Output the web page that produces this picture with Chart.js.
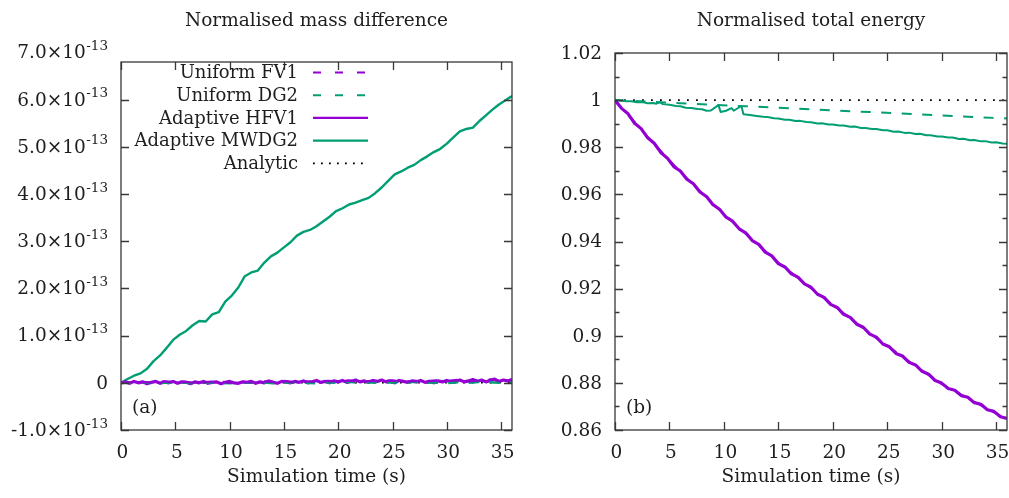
<!DOCTYPE html>
<html><head><meta charset="utf-8">
<script src="https://cdn.jsdelivr.net/npm/chart.js@4.4.1/dist/chart.umd.min.js"></script>
<style>
html,body{margin:0;padding:0;background:#fff;width:1009px;height:498px;overflow:hidden}
canvas{position:absolute;top:0}
#c1{left:0}
#c2{left:540px}
</style></head><body>
<canvas id="c1" width="540" height="498"></canvas>
<canvas id="c2" width="469" height="498"></canvas>
<script>
// ---------- text ----------
const seriesNames = ['Uniform FV1', 'Uniform DG2', 'Adaptive HFV1', 'Adaptive MWDG2', 'Analytic'];
const panelTitles = ['Normalised mass difference', 'Normalised total energy'];
const xAxisTitle = 'Simulation time (s)';
const panelTags = ['(a)', '(b)'];

// ---------- ticks ----------
const xTicks = [0, 5, 10, 15, 20, 25, 30, 35];
const massTicks = [-1, 0, 1, 2, 3, 4, 5, 6, 7];        // units of 1e-13
const massExponent = '-13';
const energyTicks = [0.86, 0.88, 0.9, 0.92, 0.94, 0.96, 0.98, 1, 1.02];
const energyMinorTicks = [0.87, 0.89, 0.91, 0.93, 0.95, 0.97, 0.99, 1.01];

// ---------- time samples ----------
const t04 = [0,0.4,0.8,1.2,1.6,2,2.4,2.8,3.2,3.6,4,4.4,4.8,5.2,5.6,6,6.4,6.8,7.2,7.6,8,8.4,8.8,9.2,9.6,10,10.4,10.8,11.2,11.6,12,12.4,12.8,13.2,13.6,14,14.4,14.8,15.2,15.6,16,16.4,16.8,17.2,17.6,18,18.4,18.8,19.2,19.6,20,20.4,20.8,21.2,21.6,22,22.4,22.8,23.2,23.6,24,24.4,24.8,25.2,25.6,26,26.4,26.8,27.2,27.6,28,28.4,28.8,29.2,29.6,30,30.4,30.8,31.2,31.6,32,32.4,32.8,33.2,33.6,34,34.4,34.8,35.2,35.6,36];
const t06 = [0,0.6,1.2,1.8,2.4,3,3.6,4.2,4.8,5.4,6,6.6,7.2,7.8,8.4,9,9.6,10.2,10.8,11.4,12,12.6,13.2,13.8,14.4,15,15.6,16.2,16.8,17.4,18,18.6,19.2,19.8,20.4,21,21.6,22.2,22.8,23.4,24,24.6,25.2,25.8,26.4,27,27.6,28.2,28.8,29.4,30,30.6,31.2,31.8,32.4,33,33.6,34.2,34.8,35.4,36];
const t1 = [0,1,2,3,4,5,6,7,8,9,10,11,12,13,14,15,16,17,18,19,20,21,22,23,24,25,26,27,28,29,30,31,32,33,34,35,36];
const t3 = [0,3,6,9,12,15,18,21,24,27,30,33,36];
const t6 = [0,6,12,18,24,30,36];
const tEnds = [0,36];

// ---------- panel (a): normalised mass difference, units of 1e-13 ----------
const massFV1 = [0,0.01,0.02,0.0,0.03,0.01,0.02,-0.01,0.02,0.03,0.0,0.02,0.01,0.03,0.02,0.04,0.01,0.03,0.02,0.04,0.03,0.05,0.02,0.04,0.03,0.05,0.02,0.04,0.03,0.05,0.04,0.06,0.03,0.05,0.07,0.04,0.06];
const massDG2 = [0,0.0,0.01,-0.01,0.0,0.01,0.0,-0.02,0.01,0.0,-0.01,0.01,0.0,0.01,-0.01,0.0,0.01,0.0,-0.01,0.01,0.0,0.02,0.0,0.01,-0.01,0.01,0.0,0.02,0.0,0.01,-0.01,0.01,0.0,0.02,0.01,0.0,0.01];
const massHFV1 = [
  0.00,0.02,-0.01,0.03,0.00,0.02,-0.02,0.01,0.03,-0.01,
  0.02,0.00,0.03,-0.01,0.02,0.01,-0.02,0.02,0.00,0.03,
  -0.01,0.01,0.02,-0.02,0.01,0.03,0.00,-0.01,0.02,0.01,
  0.03,-0.01,0.02,0.00,0.04,0.01,-0.01,0.03,0.02,0.00,
  0.03,0.01,0.04,0.00,0.02,0.05,0.01,0.03,0.00,0.04,
  0.02,0.05,0.01,0.03,0.06,0.02,0.04,0.01,0.05,0.03,
  0.06,0.02,0.04,0.00,0.05,0.03,0.01,0.04,0.02,0.05,
  0.01,0.03,0.00,0.04,0.02,0.05,0.01,0.03,0.06,0.02,
  0.04,0.07,0.03,0.06,0.02,0.05,0.08,0.03,0.06,0.04,
  0.07];
const massMWDG2 = [0.00,0.08,0.15,0.20,0.30,0.46,0.58,0.74,0.91,1.02,1.10,1.22,1.31,1.30,1.45,1.50,1.72,1.85,2.02,2.26,2.34,2.38,2.55,2.68,2.76,2.87,2.98,3.12,3.20,3.24,3.32,3.42,3.52,3.64,3.70,3.78,3.82,3.87,3.92,4.02,4.14,4.28,4.42,4.48,4.56,4.62,4.72,4.80,4.89,4.96,5.07,5.20,5.33,5.38,5.41,5.55,5.67,5.79,5.90,5.99,6.08];
const massAnalytic = [0, 0];

// ---------- panel (b): normalised total energy ----------
const energyFV1 = [1,0.9844,0.9695,0.956,0.9433,0.931,0.9202,0.9095,0.899,0.8891,0.8795,0.872,0.8645];
const energyDG2 = [1,0.9987,0.9974,0.9961,0.9948,0.9935,0.9922];
const energyHFV1 = [1.0000,0.9965,0.9942,0.9902,0.9879,0.9840,0.9817,0.9778,0.9754,0.9718,0.9699,0.9664,0.9645,0.9610,0.9591,0.9556,0.9537,0.9503,0.9486,0.9454,0.9437,0.9404,0.9388,0.9355,0.9339,0.9306,0.9292,0.9263,0.9249,0.9220,0.9206,0.9176,0.9163,0.9133,0.9120,0.9091,0.9078,0.9049,0.9036,0.9007,0.8994,0.8965,0.8953,0.8925,0.8914,0.8887,0.8876,0.8849,0.8837,0.8810,0.8799,0.8776,0.8769,0.8746,0.8739,0.8716,0.8709,0.8686,0.8679,0.8656,0.8649];
const tMWDG2 = [0,0.6,1,1.5,2,2.6,3,3.5,3.8,4.1,4.4,5,5.6,6,6.5,7,7.6,8,8.4,8.8,9.5,9.7,10.2,10.7,10.9,11.6,11.8,12.4,13,13.6,14,14.6,15,15.6,16,16.6,17,17.6,18,18.6,19,19.6,20,20.6,21,21.6,22,22.6,23,23.6,24,24.6,25,25.6,26,26.6,27,27.6,28,28.6,29,29.6,30,30.6,31,31.6,32,32.6,33,33.6,34,34.6,35,35.6,36];
const energyMWDG2 = [1.0000,0.9998,0.9995,0.9995,0.9991,0.9991,0.9987,0.9988,0.9985,0.9991,0.9983,0.9980,0.9975,0.9974,0.9968,0.9967,0.9962,0.9961,0.9955,0.9956,0.9979,0.9950,0.9955,0.9966,0.9955,0.9975,0.9940,0.9937,0.9933,0.9929,0.9928,0.9923,0.9922,0.9917,0.9917,0.9911,0.9912,0.9907,0.9906,0.9901,0.9902,0.9897,0.9897,0.9892,0.9892,0.9887,0.9888,0.9882,0.9882,0.9877,0.9877,0.9872,0.9872,0.9866,0.9867,0.9861,0.9862,0.9856,0.9857,0.9851,0.9851,0.9846,0.9846,0.9841,0.9841,0.9835,0.9836,0.9830,0.9831,0.9825,0.9826,0.9820,0.9821,0.9816,0.9815];
const energyAnalytic = [1, 1];

// ---------- styles ----------
const FONT = "'DejaVu Serif', 'Liberation Serif', serif";
const FS = 18.5, LFS = 18, SUP = 13.5;
const PURPLE = '#9400D3', GREEN = '#009E73', BLACK = '#000000';
const TEXT = '#1e1e1e', AXIS = '#383838';
const seriesStyles = [
  {color: PURPLE, dash: [10, 10.5], legendDash: [8, 14], width: 2},
  {color: GREEN,  dash: [10, 10.5], legendDash: [8, 14], width: 2},
  {color: PURPLE, dash: [], legendDash: [], width: 2.4},
  {color: GREEN,  dash: [], legendDash: [], width: 2.2},
  {color: BLACK,  dash: [1.8, 7.2], legendDash: [1.8, 6.2], width: 1.8}
];

const pts = (xs, ys) => xs.map((x, i) => ({x, y: ys[i]}));

function makeDatasets(list, widths) {
  return list.map((d, i) => ({
    label: seriesNames[i],
    data: pts(d[0], d[1]),
    borderColor: seriesStyles[i].color,
    borderDash: seriesStyles[i].dash,
    borderWidth: widths ? widths[i] : seriesStyles[i].width,
    pointRadius: 0,
    tension: 0,
    fill: false,
    borderCapStyle: 'butt',
    borderJoinStyle: 'round'
  }));
}

const gnuPlugin = {
  id: 'gnu',
  afterDatasetsDraw(chart, args, o) {
    const {ctx, chartArea: a, scales: {x, y}} = chart;
    ctx.save();
    ctx.strokeStyle = AXIS;
    ctx.lineWidth = 1.3;
    ctx.setLineDash([]);
    ctx.beginPath();
    const L = 8, l = 4.5;
    for (const v of o.xTicks) {
      const px = Math.round(x.getPixelForValue(v)) + 0.5;
      if (px < a.left - 0.5 || px > a.right + 0.5) continue;
      ctx.moveTo(px, a.bottom); ctx.lineTo(px, a.bottom - L);
      ctx.moveTo(px, a.top); ctx.lineTo(px, a.top + L);
    }
    for (const v of o.yTicks) {
      const py = Math.round(y.getPixelForValue(v)) + 0.5;
      if (py < a.top - 1 || py > a.bottom + 1) continue;
      ctx.moveTo(a.left, py); ctx.lineTo(a.left + L, py);
      ctx.moveTo(a.right, py); ctx.lineTo(a.right - L, py);
    }
    for (const v of o.yMinor) {
      const py = Math.round(y.getPixelForValue(v)) + 0.5;
      ctx.moveTo(a.left, py); ctx.lineTo(a.left + l, py);
      ctx.moveTo(a.right, py); ctx.lineTo(a.right - l, py);
    }
    ctx.stroke();
    ctx.strokeRect(a.left, a.top, a.right - a.left, a.bottom - a.top);
    ctx.restore();
  },
  afterDraw(chart, args, o) {
    const {ctx, chartArea: a, scales: {x, y}} = chart;
    ctx.save();
    ctx.fillStyle = TEXT;
    ctx.font = FS + 'px ' + FONT;
    const cx = (a.left + a.right) / 2;
    ctx.textAlign = 'center';
    ctx.textBaseline = 'middle';
    ctx.fillText(o.title, cx, 21);
    ctx.fillText(xAxisTitle, cx, 477);
    for (const v of o.xTicks) {
      ctx.fillText(String(v), x.getPixelForValue(v) + 1.5, 453);
    }
    ctx.textAlign = 'left';
    ctx.fillText(o.tag, a.left + 11, 408);
    const rx = a.left - 13;
    for (const v of o.yTicks) {
      const py = y.getPixelForValue(v);
      ctx.textAlign = 'right';
      if (o.sci) {
        if (v === 0) {
          ctx.font = FS + 'px ' + FONT;
          ctx.fillText('0', rx, py + 1);
        } else {
          ctx.font = SUP + 'px ' + FONT;
          const sw = ctx.measureText(o.exp).width;
          ctx.fillText(o.exp, rx, py - 6);
          ctx.font = FS + 'px ' + FONT;
          ctx.fillText(v.toFixed(1) + '×10', rx - sw - 0.5, py + 1);
        }
      } else {
        ctx.font = FS + 'px ' + FONT;
        ctx.fillText(String(+v.toFixed(2)), rx, py + 1);
      }
    }
    if (o.legend) {
      ctx.font = LFS + 'px ' + FONT;
      for (let i = 0; i < seriesNames.length; i++) {
        const yy = 72.5 + i * 22.7;
        ctx.textAlign = 'right';
        ctx.fillStyle = TEXT;
        ctx.fillText(seriesNames[i], a.left + 177, yy + 1);
        const st = seriesStyles[i];
        ctx.strokeStyle = st.color;
        ctx.lineWidth = st.width;
        ctx.setLineDash(st.legendDash);
        ctx.beginPath();
        ctx.moveTo(a.left + 192, yy);
        ctx.lineTo(a.left + 247, yy);
        ctx.stroke();
      }
      ctx.setLineDash([]);
    }
    ctx.restore();
  }
};

function baseOptions(yMin, yMax, yWidth, padTop, padRight, pluginOpts) {
  return {
    responsive: false,
    animation: false,
    devicePixelRatio: 1,
    layout: {padding: {top: padTop, right: padRight, left: 0, bottom: 0}},
    plugins: {legend: {display: false}, tooltip: {enabled: false}, title: {display: false}, gnu: pluginOpts},
    scales: {
      x: {
        type: 'linear', min: 0, max: 36,
        grid: {display: false, drawTicks: false},
        border: {display: false},
        ticks: {display: false},
        afterFit: s => { s.height = 68; }
      },
      y: {
        type: 'linear', min: yMin, max: yMax,
        grid: {display: false, drawTicks: false},
        border: {display: false},
        ticks: {display: false},
        afterFit: s => { s.width = yWidth; }
      }
    }
  };
}

new Chart(document.getElementById('c1'), {
  type: 'line',
  data: {datasets: makeDatasets([
    [t1, massFV1], [t1, massDG2], [t04, massHFV1], [t06, massMWDG2], [tEnds, massAnalytic]
  ], [2.4, 2.4, 3.2, 2.4, 1.6])},
  options: baseOptions(-1, 6.8, 121, 62, 28, {
    title: panelTitles[0], tag: panelTags[0], xTicks, yTicks: massTicks, yMinor: [],
    sci: true, exp: massExponent, legend: true
  }),
  plugins: [gnuPlugin]
});

new Chart(document.getElementById('c2'), {
  type: 'line',
  data: {datasets: makeDatasets([
    [t3, energyFV1], [t6, energyDG2], [t06, energyHFV1], [tMWDG2, energyMWDG2], [tEnds, energyAnalytic]
  ], [2, 2, 3.2, 2, 1.8])},
  options: baseOptions(0.86, 1.02, 75, 53, 2, {
    title: panelTitles[1], tag: panelTags[1], xTicks, yTicks: energyTicks, yMinor: energyMinorTicks,
    sci: false, exp: '', legend: false
  }),
  plugins: [gnuPlugin]
});
</script>
</body></html>
